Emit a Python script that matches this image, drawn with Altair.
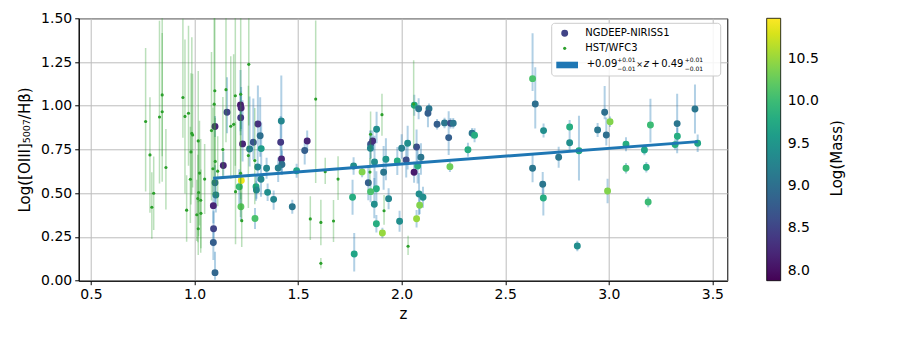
import altair as alt
import pandas as pd

# ---------------- data ----------------
ng_z = [1.099, 1.157, 1.222, 1.225, 1.223, 1.232, 1.139, 1.266, 1.284, 1.306, 1.317, 1.322,
        1.305, 1.321, 1.348, 1.297, 1.299, 1.353, 1.382, 1.216, 1.224, 1.292, 1.226, 1.472,
        1.419, 1.416, 1.420, 1.422, 1.404, 1.493, 1.544, 1.532, 1.091, 1.092, 1.091, 1.099,
        1.103, 1.099,
        1.768, 1.809, 1.763, 1.771, 1.879, 1.850, 1.860, 1.849, 1.869, 1.924, 1.913, 1.839,
        1.878, 1.850, 1.868, 1.937, 1.878, 1.907, 1.990, 1.979, 2.000, 2.029, 2.022, 2.072,
        2.093, 2.060, 2.077, 2.084, 2.103, 2.087, 2.072, 2.061, 2.082, 2.132, 2.127, 2.171,
        2.207, 2.236, 2.249, 2.227, 2.233, 2.320, 2.340, 2.352,
        2.632, 2.645, 2.685, 2.632, 2.681, 2.684, 2.758, 2.811, 2.811, 2.856, 2.848, 2.946,
        2.980, 2.988, 3.006, 2.994, 3.083, 3.083, 3.172, 3.181, 3.201, 3.190, 3.330, 3.331,
        3.320, 3.416, 3.429]
ng_y = [0.881, 0.963, 1.005, 0.987, 0.932, 0.782, 0.658, 0.753, 0.791, 0.896, 0.829, 0.755,
        0.650, 0.580, 0.643, 0.537, 0.518, 0.505, 0.465, 0.537, 0.423, 0.356, 0.573, 0.423,
        0.913, 0.791, 0.696, 0.664, 0.644, 0.629, 0.799, 0.744, 0.429, 0.297, 0.218, 0.046,
        0.490, 0.560,
        0.656, 0.622, 0.477, 0.153, 0.866, 0.780, 0.799, 0.757, 0.679, 0.694, 0.620, 0.560,
        0.526, 0.509, 0.437, 0.469, 0.326, 0.273, 0.340, 0.684, 0.757, 0.786, 0.690, 0.764,
        0.706, 0.620, 0.656, 0.496, 0.477, 0.431, 0.354, 1.003, 0.983, 0.983, 0.957, 0.894,
        0.902, 0.900, 0.900, 0.818, 0.652, 0.749, 0.843, 0.831,
        1.155, 1.010, 0.858, 0.643, 0.551, 0.473, 0.706, 0.879, 0.789, 0.743, 0.198, 0.862,
        0.963, 0.833, 0.909, 0.513, 0.780, 0.643, 0.747, 0.648, 0.890, 0.450, 0.898, 0.826,
        0.778, 0.982, 0.786]
ng_mass = [8.2, 8.5, 8.1, 8.2, 8.4, 8.2, 8.2, 9.2, 8.7, 8.3, 9.0, 9.6,
           9.3, 9.3, 9.3, 9.7, 9.3, 9.4, 9.3, 10.0, 10.2, 10.1, 10.9, 9.1,
           9.3, 8.4, 8.2, 9.0, 9.2, 9.7, 8.2, 8.8, 8.2, 8.5, 8.8, 8.9,
           9.2, 9.0,
           9.4, 10.4, 9.8, 9.7, 9.4, 8.7, 8.3, 9.3, 9.4, 9.5, 9.1, 8.8,
           9.8, 10.1, 9.4, 9.3, 9.8, 10.5, 9.4, 9.8, 9.2, 9.4, 8.6, 8.6,
           9.1, 8.1, 9.8, 9.4, 9.4, 10.4, 10.5, 9.7, 9.1, 9.1, 8.8, 8.8,
           9.1, 8.6, 9.1, 8.8, 10.3, 9.8, 9.1, 9.8,
           10.1, 9.0, 9.4, 9.1, 9.1, 9.8, 9.1, 9.8, 9.4, 9.7, 9.4, 9.1,
           9.0, 9.0, 10.4, 10.4, 9.8, 10.0, 9.7, 9.8, 10.0, 10.0, 9.1, 9.8,
           9.8, 9.1, 9.7]
ng_eup = [0.06, 0.20, 0.20, 0.12, 0.15, 0.25, 0.08, 0.30, 0.25, 0.22, 0.22, 0.15,
          0.10, 0.08, 0.06, 0.06, 0.05, 0.05, 0.05, 0.10, 0.08, 0.06, 0.05, 0.04,
          0.26, 0.15, 0.10, 0.08, 0.06, 0.04, 0.06, 0.05, 0.12, 0.10, 0.08, 0.12,
          0.10, 0.10,
          0.05, 0.03, 0.10, 0.12, 0.10, 0.08, 0.06, 0.10, 0.15, 0.12, 0.15, 0.10,
          0.10, 0.06, 0.15, 0.06, 0.05, 0.03, 0.06, 0.08, 0.08, 0.10, 0.10, 0.10,
          0.08, 0.06, 0.10, 0.12, 0.06, 0.05, 0.05, 0.06, 0.06, 0.03, 0.04, 0.03,
          0.03, 0.03, 0.03, 0.15, 0.03, 0.04, 0.03, 0.04,
          0.26, 0.21, 0.04, 0.08, 0.07, 0.06, 0.06, 0.04, 0.05, 0.20, 0.03, 0.04,
          0.15, 0.10, 0.03, 0.07, 0.04, 0.03, 0.03, 0.03, 0.15, 0.03, 0.17, 0.05,
          0.03, 0.14, 0.05]
ng_edn = [0.06, 0.12, 0.15, 0.12, 0.10, 0.10, 0.06, 0.10, 0.10, 0.15, 0.12, 0.10,
          0.08, 0.10, 0.06, 0.08, 0.05, 0.05, 0.06, 0.10, 0.08, 0.06, 0.05, 0.04,
          0.10, 0.10, 0.08, 0.06, 0.08, 0.04, 0.06, 0.08, 0.10, 0.10, 0.10, 0.04,
          0.10, 0.12,
          0.05, 0.03, 0.10, 0.10, 0.08, 0.08, 0.06, 0.10, 0.15, 0.12, 0.10, 0.10,
          0.08, 0.06, 0.08, 0.06, 0.05, 0.03, 0.06, 0.08, 0.06, 0.15, 0.10, 0.12,
          0.10, 0.06, 0.10, 0.12, 0.06, 0.05, 0.05, 0.06, 0.06, 0.03, 0.08, 0.03,
          0.03, 0.03, 0.03, 0.10, 0.03, 0.04, 0.03, 0.04,
          0.07, 0.14, 0.04, 0.08, 0.07, 0.10, 0.06, 0.04, 0.05, 0.17, 0.03, 0.04,
          0.04, 0.06, 0.03, 0.07, 0.04, 0.03, 0.03, 0.03, 0.10, 0.03, 0.17, 0.05,
          0.03, 0.14, 0.05]

hst_z = [0.764, 0.785, 0.794, 0.803, 0.831, 0.844, 0.844, 0.862, 0.944, 0.954, 0.971, 0.987,
         0.991, 0.983, 0.962, 0.980, 1.018, 1.024, 1.049, 1.011, 1.018, 1.020, 1.016, 1.030,
         1.031, 1.082, 1.089, 1.098, 1.095, 1.100, 1.112, 1.137, 1.152, 1.175, 1.189, 1.197,
         1.223, 1.262, 1.260, 1.291, 1.222, 1.198, 1.228, 1.585, 1.559, 1.610, 1.610, 1.631,
         1.693, 1.671, 1.905, 1.850, 1.847, 1.915, 2.031, 2.058]
hst_y = [0.910, 0.719, 0.420, 0.500, 0.936, 1.062, 0.966, 0.647, 1.047, 0.939, 0.957, 0.842,
         0.833, 0.736, 0.403, 0.580, 0.799, 0.615, 0.581, 0.377, 0.297, 0.504, 0.470, 0.460,
         0.385, 0.858, 0.640, 1.086, 1.009, 0.682, 0.626, 0.750, 1.092, 0.883, 0.894, 1.057,
         1.066, 1.237, 0.715, 0.687, 0.614, 0.509, 0.343, 1.038, 0.353, 0.333, 0.099, 0.623,
         0.581, 0.341, 0.949, 0.837, 0.621, 0.400, 0.197, 1.010]
hst_eup = [0.42, 0.33, 0.20, 0.21, 0.55, 0.60, 0.45, 0.22, 0.45, 0.44, 0.50, 0.55,
           0.35, 0.45, 0.20, 0.30, 0.40, 0.30, 0.20, 0.20, 0.20, 0.30, 0.25, 0.35,
           0.25, 0.45, 0.35, 0.70, 0.55, 0.25, 0.20, 0.30, 0.60, 0.40, 0.40, 0.50,
           0.60, 0.40, 0.40, 0.30, 0.35, 0.40, 0.20, 0.45, 0.13, 0.13, 0.03, 0.08,
           0.13, 0.12, 0.12, 0.13, 0.08, 0.09, 0.06, 0.25]
hst_edn = [0.40, 0.33, 0.18, 0.21, 0.38, 0.35, 0.40, 0.24, 0.23, 0.44, 0.30, 0.35,
           0.30, 0.30, 0.18, 0.25, 0.35, 0.30, 0.20, 0.15, 0.15, 0.25, 0.25, 0.30,
           0.20, 0.40, 0.15, 0.45, 0.45, 0.20, 0.20, 0.15, 0.30, 0.30, 0.30, 0.40,
           0.60, 0.35, 0.30, 0.25, 0.25, 0.30, 0.15, 0.48, 0.12, 0.13, 0.03, 0.07,
           0.12, 0.12, 0.12, 0.14, 0.08, 0.08, 0.05, 0.25]

fit_z = [1.09, 3.43]
fit_y = [0.585, 0.795]

x_ticks = [0.5, 1.0, 1.5, 2.0, 2.5, 3.0, 3.5]
y_ticks = [0.0, 0.25, 0.5, 0.75, 1.0, 1.25, 1.5]
mass_ticks = [8.0, 8.5, 9.0, 9.5, 10.0, 10.5]

legend_labels = ["NGDEEP-NIRISS1", "HST/WFC3"]
colorbar_title = "Log(Mass)"

# ---------------- tables ----------------
ng = pd.DataFrame({
    "z": ng_z, "y": ng_y, "mass": ng_mass,
    "lo": [v - d for v, d in zip(ng_y, ng_edn)],
    "hi": [v + u for v, u in zip(ng_y, ng_eup)],
})
hst = pd.DataFrame({
    "z": hst_z, "y": hst_y,
    "lo": [v - d for v, d in zip(hst_y, hst_edn)],
    "hi": [v + u for v, u in zip(hst_y, hst_eup)],
})
fit = pd.DataFrame({"z": fit_z, "y": fit_y})
one = pd.DataFrame({"a": [0]})

FONT = "DejaVu Sans"
GRID = "#bcbcbc"
xs = alt.Scale(domain=[0.441, 3.572], nice=False, zero=False)
ys = alt.Scale(domain=[0.0, 1.5], nice=False, zero=False)

xaxis = alt.Axis(values=x_ticks, format=".1f", title="z", labelFontSize=14, titleFontSize=15,
                 tickSize=4, tickColor="black", domainColor="black", gridColor=GRID,
                 labelColor="black", titleColor="black", titleFontWeight="normal",
                 labelFont=FONT, titleFont=FONT, labelPadding=3, titlePadding=5,
                 labelFlush=False, grid=True)
yaxis = alt.Axis(values=y_ticks, format=".2f", title="Log([OIII]₅₀₀₇/Hβ)", labelFontSize=14,
                 titleFontSize=15, tickSize=4, tickColor="black", domainColor="black",
                 gridColor=GRID, labelColor="black", titleColor="black",
                 titleFontWeight="normal", labelFont=FONT, titleFont=FONT, labelPadding=3,
                 titlePadding=8, labelFlush=False, grid=True)


def X(field):
    return alt.X(field, type="quantitative", scale=xs, axis=xaxis, title="z")


def Y(field):
    return alt.Y(field, type="quantitative", scale=ys, axis=yaxis, title="Log([OIII]₅₀₀₇/Hβ)")


color = alt.Color(
    "mass:Q",
    scale=alt.Scale(scheme="viridis", domain=[7.88, 10.98], nice=False, zero=False),
    legend=alt.Legend(
        title=None, orient="none", legendX=688, legendY=0, direction="vertical",
        gradientLength=262.4, gradientThickness=14, gradientStrokeColor="black",
        gradientStrokeWidth=0.8, values=mass_ticks, format=".1f", labelFontSize=14,
        labelFont=FONT, labelColor="black", labelOffset=7, labelOverlap=False,
        padding=0,
    ),
)

base_ng = alt.Chart(ng)
ng_err = base_ng.mark_rule(color="#1f77b4", opacity=0.35, strokeWidth=2, clip=True).encode(
    x=X("z"), y=Y("lo"), y2="hi:Q",
)
ng_pts = base_ng.mark_circle(size=48, opacity=1, clip=True).encode(
    x=X("z"), y=Y("y"), color=color,
)

base_h = alt.Chart(hst)
h_err = base_h.mark_rule(color="#2ca02c", opacity=0.32, strokeWidth=1.5, clip=True).encode(
    x=X("z"), y=Y("lo"), y2="hi:Q",
)
h_pts = base_h.mark_circle(size=10, color="#2ca02c", opacity=1, clip=True).encode(
    x=X("z"), y=Y("y"),
)

fit_line = alt.Chart(fit).mark_line(color="#1f77b4", strokeWidth=3, clip=True).encode(
    x=X("z"), y=Y("y"),
)

# ---------------- inset legend & colorbar title ----------------
lg = alt.Chart(one)
lg_box = lg.mark_rect(fill="white", fillOpacity=0.85, stroke="#cccccc", strokeWidth=1,
                      cornerRadius=3).encode(
    x=alt.value(473), x2=alt.value(642), y=alt.value(5), y2=alt.value(57.7))
lg_c1 = lg.mark_circle(size=48, color="#414487", opacity=1).encode(
    x=alt.value(486), y=alt.value(15))
lg_c2 = lg.mark_circle(size=10, color="#2ca02c", opacity=1).encode(
    x=alt.value(486), y=alt.value(30))
lg_bar = lg.mark_rect(color="#1f77b4").encode(
    x=alt.value(477.6), x2=alt.value(499.3), y=alt.value(43.4), y2=alt.value(50))


def txt(s, x, y, size=10, style="normal", angle=0, align="left"):
    return lg.mark_text(text=s, align=align, baseline="middle", font=FONT, fontSize=size,
                        fontStyle=style, angle=angle, color="black").encode(
        x=alt.value(x), y=alt.value(y))


lg_t1 = txt(legend_labels[0], 506.6, 15)
lg_t2 = txt(legend_labels[1], 506.6, 30)
lg_f1 = txt("+0.09", 508, 46)
lg_f2 = txt("+0.01", 538.5, 41.5, 6)
lg_f3 = txt("−0.01", 538.5, 50.5, 6)
lg_f4 = txt("×", 557.5, 46.5, 8)
lg_f5 = txt("z", 565, 46, 10, "italic")
lg_f6 = txt("+", 572.5, 46)
lg_f7 = txt("0.49", 582.5, 46)
lg_f8 = txt("+0.01", 606, 41.5, 6)
lg_f9 = txt("−0.01", 606, 50.5, 6)
cb_title = txt(colorbar_title, 758, 140, 15, angle=270, align="center")

chart = alt.layer(
    ng_err, ng_pts, h_err, h_pts, fit_line,
    lg_box, lg_c1, lg_c2, lg_bar, lg_t1, lg_t2,
    lg_f1, lg_f2, lg_f3, lg_f4, lg_f5, lg_f6, lg_f7, lg_f8, lg_f9, cb_title,
).properties(
    width=648.6, height=262.4,
    background="white",
    autosize=alt.AutoSizeParams(type="none"),
    padding={"left": 70.7, "top": 10.3, "right": 164, "bottom": 49},
).configure_view(
    stroke="black", strokeWidth=1
).configure_legend(
    gradientVerticalMaxLength=400
)

chart.save("out.html", embed_options={"renderer": "svg", "actions": False})
